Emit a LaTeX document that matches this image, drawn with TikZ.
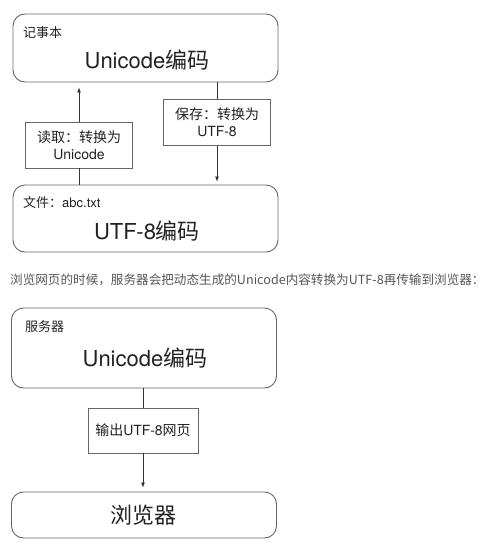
\documentclass[tikz,border=0pt]{standalone}
\usepackage{fontspec}
\setmainfont{TeX Gyre Heros}
\newfontfamily\cjk{Noto Sans CJK SC}
\usetikzlibrary{positioning,arrows.meta}
\definecolor{linegray}{HTML}{666666}
\definecolor{textdark}{HTML}{222222}
\definecolor{captiongray}{HTML}{555555}
\tikzset{
  bigbox/.style={draw=linegray, line width=0.9pt, rounded corners=12pt, minimum width=265pt, inner sep=0pt},
  bigtext/.style={text=textdark, font=\fontsize{22}{26}\selectfont, inner sep=0pt},
  cornertext/.style={anchor=west, text=textdark, font=\fontsize{13}{15}\selectfont, inner sep=0pt},
  labelbox/.style={draw=linegray, line width=0.9pt, fill=white, align=center, text=textdark,
    minimum width=107pt, minimum height=46pt, inner sep=2pt, font=\fontsize{14}{17}\selectfont},
  flow/.style={draw=black!80, line width=0.7pt},
  flowtip/.style={flow, -{Latex[length=5pt,width=4pt]}}
}
\begin{document}
\begin{tikzpicture}[x=1pt,y=-1pt]
\useasboundingbox (0,0) rectangle (481,549);
% notepad and file
\node[bigbox, minimum height=68pt] (notepad) at (145.5,48) {};
\node[cornertext] (notepadtitle) at (23,33) {\cjk 记事本};
\node[bigtext] (notepadtext) at (147,60) {Unicode{\cjk 编码}};
\node[bigbox, minimum height=67pt] (file) at (145.5,218.5) {};
\node[cornertext] (filetitle) at (23,203) {{\cjk 文件：}abc.txt};
\node[bigtext] (filetext) at (147,231) {UTF-8{\cjk 编码}};
\node[labelbox] (readlabel) at (79,145) {{\cjk 读取：转换为}\\Unicode};
\node[labelbox] (savelabel) at (217,122.5) {{\cjk 保存：转换为}\\UTF-8};
\draw[flow] (readlabel.south |- file.north) -- (readlabel.south);
\draw[flowtip, shorten >=5pt] (readlabel.north) -- (readlabel.north |- notepad.south);
\draw[flow] (savelabel.north |- notepad.south) -- (savelabel.north);
\draw[flowtip, shorten >=3pt] (savelabel.south) -- (savelabel.south |- file.north);
% caption
\node[anchor=west, text=captiongray, inner sep=0pt, font=\cjk\fontsize{12.6}{15}\selectfont] (caption) at (10,280)
  {浏览网页的时候，服务器会把动态生成的Unicode内容转换为UTF-8再传输到浏览器：};
% server and browser
\node[bigbox, minimum height=80pt] (server) at (144,348) {};
\node[cornertext] (servertitle) at (25,327) {\cjk 服务器};
\node[bigtext] (servertext) at (145,358) {Unicode{\cjk 编码}};
\node[bigbox, minimum height=46pt] (browser) at (144,515) {};
\node[bigtext] (browsertext) at (143,515) {\cjk 浏览器};
\node[labelbox, minimum width=110pt, minimum height=45pt] (outlabel) at (143,430.5) {{\cjk 输出}UTF-8{\cjk 网页}};
\draw[flow] (outlabel.north |- server.south) -- (outlabel.north);
\draw[flowtip, shorten >=4pt] (outlabel.south) -- (outlabel.south |- browser.north);
\end{tikzpicture}
\end{document}
